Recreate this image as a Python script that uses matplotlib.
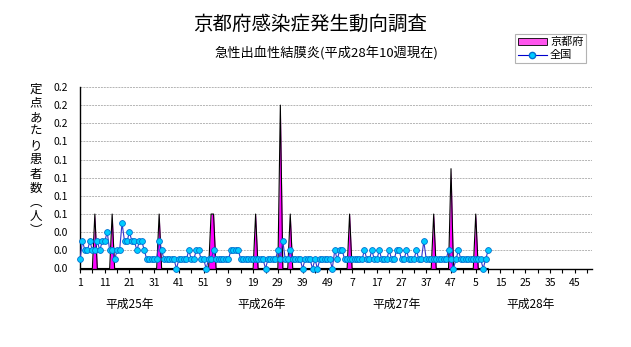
import numpy as np
import matplotlib
matplotlib.use("Agg")
import matplotlib.pyplot as plt
from matplotlib.patches import Patch
from matplotlib.lines import Line2D

plt.rcParams['font.family'] = ['Noto Sans CJK JP', 'DejaVu Sans']

# Weekly sentinel rates (patients per sentinel), H25 wk1 .. H28 wk10
kyoto_h25 = [0, 0, 0, 0, 0, 0, 0.06, 0, 0, 0, 0, 0, 0, 0.06, 0, 0, 0, 0, 0, 0,
             0, 0, 0, 0, 0, 0, 0, 0, 0, 0, 0, 0, 0.06, 0, 0, 0, 0, 0, 0, 0,
             0, 0, 0, 0, 0, 0, 0, 0, 0, 0, 0, 0]
kyoto_h26 = [0, 0.06, 0.06, 0, 0, 0, 0, 0, 0, 0, 0, 0, 0, 0, 0, 0, 0, 0, 0, 0.06,
             0, 0, 0, 0, 0, 0, 0, 0, 0, 0.18, 0, 0, 0, 0.06, 0, 0, 0, 0, 0, 0,
             0, 0, 0, 0, 0, 0, 0, 0, 0, 0, 0, 0]
kyoto_h27 = [0, 0, 0, 0, 0, 0.06, 0, 0, 0, 0, 0, 0, 0, 0, 0, 0, 0, 0, 0, 0,
             0, 0, 0, 0, 0, 0, 0, 0, 0, 0, 0, 0, 0, 0, 0, 0, 0, 0, 0, 0.06,
             0, 0, 0, 0, 0, 0, 0.11, 0, 0, 0, 0, 0]
kyoto_h28 = [0, 0, 0, 0, 0.06, 0, 0, 0, 0, 0]

national_h25 = [0.01, 0.03, 0.02, 0.02, 0.03, 0.02, 0.02, 0.03, 0.02, 0.03,
                0.03, 0.04, 0.02, 0.02, 0.01, 0.02, 0.02, 0.05, 0.03, 0.03,
                0.04, 0.03, 0.03, 0.02, 0.03, 0.03, 0.02, 0.01, 0.01, 0.01,
                0.01, 0.01, 0.03, 0.02, 0.01, 0.01, 0.01, 0.01, 0.01, 0.00,
                0.01, 0.01, 0.01, 0.01, 0.02, 0.01, 0.01, 0.02, 0.02, 0.01,
                0.01, 0.00]
national_h26 = [0.01, 0.01, 0.02, 0.01, 0.01, 0.01, 0.01, 0.01, 0.01, 0.02,
                0.02, 0.02, 0.02, 0.01, 0.01, 0.01, 0.01, 0.01, 0.01, 0.01,
                0.01, 0.01, 0.01, 0.00, 0.01, 0.01, 0.01, 0.01, 0.02, 0.01,
                0.03, 0.01, 0.01, 0.02, 0.01, 0.01, 0.01, 0.01, 0.00, 0.01,
                0.01, 0.01, 0.00, 0.01, 0.00, 0.01, 0.01, 0.01, 0.01, 0.01,
                0.00, 0.02]
national_h27 = [0.01, 0.02, 0.02, 0.01, 0.01, 0.01, 0.01, 0.01, 0.01, 0.01,
                0.01, 0.02, 0.01, 0.01, 0.02, 0.01, 0.01, 0.02, 0.01, 0.01,
                0.01, 0.02, 0.01, 0.01, 0.02, 0.02, 0.01, 0.01, 0.02, 0.01,
                0.01, 0.01, 0.02, 0.01, 0.01, 0.03, 0.01, 0.01, 0.01, 0.01,
                0.01, 0.01, 0.01, 0.01, 0.01, 0.02, 0.01, 0.00, 0.01, 0.02,
                0.01, 0.01]
national_h28 = [0.01, 0.01, 0.01, 0.01, 0.01, 0.01, 0.01, 0.00, 0.01, 0.02]

year_labels = ['平成25年', '平成26年', '平成27年', '平成28年']
weeks_per_year = 52
n_years = 4

kyoto = np.array(kyoto_h25 + kyoto_h26 + kyoto_h27 + kyoto_h28)
national = np.array(national_h25 + national_h26 + national_h27 + national_h28)
idx = np.arange(1, len(kyoto) + 1)
n_total = weeks_per_year * n_years

fig = plt.figure(figsize=(6.31, 3.47), dpi=100)
ax = fig.add_axes([80 / 631, 1 - 268.5 / 347, 512 / 631, 181.5 / 347])

# Kyoto area series
ax.fill_between(idx, 0, kyoto, color='#FF00FF', lw=0, zorder=2)
ax.plot(idx, kyoto, color='#000000', lw=0.8, zorder=2.5)

# National line with markers
ax.plot(idx, national, color='#3333CC', lw=0.8, marker='o', markersize=4.2,
        markerfacecolor='#00CCFF', markeredgecolor='#0070D0', markeredgewidth=0.6,
        zorder=3, clip_on=False)

ax.set_xlim(1, n_total)
ax.set_ylim(0, 0.2)

yt = np.arange(0, 0.2001, 0.02)
ax.set_yticks(yt)
ax.set_yticklabels([f'{v:.1f}' for v in yt], fontsize=7.5)
ax.tick_params(axis='y', length=0, pad=9)
for v in yt[1:]:
    ax.axhline(v, color='#B4B4B4', lw=0.7, ls=(0, (2, 1)), zorder=1)

# Week-number ticks: labels every 10 weeks, tick marks every 5
major = np.arange(1, n_total + 1, 10)
ax.set_xticks(major)
ax.set_xticklabels([str((i - 1) % weeks_per_year + 1) for i in major], fontsize=7.5)
ax.set_xticks(np.arange(6, n_total + 1, 10), minor=True)
ax.tick_params(axis='x', which='both', direction='out', length=3, width=0.8, pad=4)

for s in ['top', 'right']:
    ax.spines[s].set_visible(False)
for s in ['left', 'bottom']:
    ax.spines[s].set_linewidth(1.0)

year_pos = [21, 74.5, 128.8, 183]
for p, lab in zip(year_pos, year_labels):
    ax.text(p, -0.2, lab, transform=ax.get_xaxis_transform(), ha='center',
            va='center', fontsize=8.5)

fig.text(310 / 631, 1 - 24 / 347, '京都府感染症発生動向調査', ha='center',
         va='center', fontsize=14)
fig.text(326 / 631, 1 - 53 / 347, '急性出血性結膜炎(平成28年10週現在)', ha='center',
         va='center', fontsize=9.5)

ylab = '\n'.join(list('定点あたり患者数') + ['︵', '人', '︶'])
fig.text(36 / 631, 1 - 160 / 347, ylab, ha='center', va='center', fontsize=9,
         linespacing=1.12)

handles = [Patch(facecolor='#FF55EE', edgecolor='#000000', lw=0.6),
           Line2D([0], [0], color='#0000CC', lw=0.8, marker='o', markersize=4.5,
                  markerfacecolor='#00CCFF', markeredgecolor='#0070D0')]
leg = fig.legend(handles, ['京都府', '全国'], loc='upper left',
                 bbox_to_anchor=(515 / 631, 1 - 34 / 347), fontsize=8,
                 frameon=True, fancybox=False, edgecolor='#A0A0A0',
                 handlelength=2.6, handleheight=0.6, borderpad=0.25,
                 labelspacing=0.3, handletextpad=0.3, borderaxespad=0)
leg.get_frame().set_linewidth(0.8)

fig.savefig('out.png', dpi=100)
